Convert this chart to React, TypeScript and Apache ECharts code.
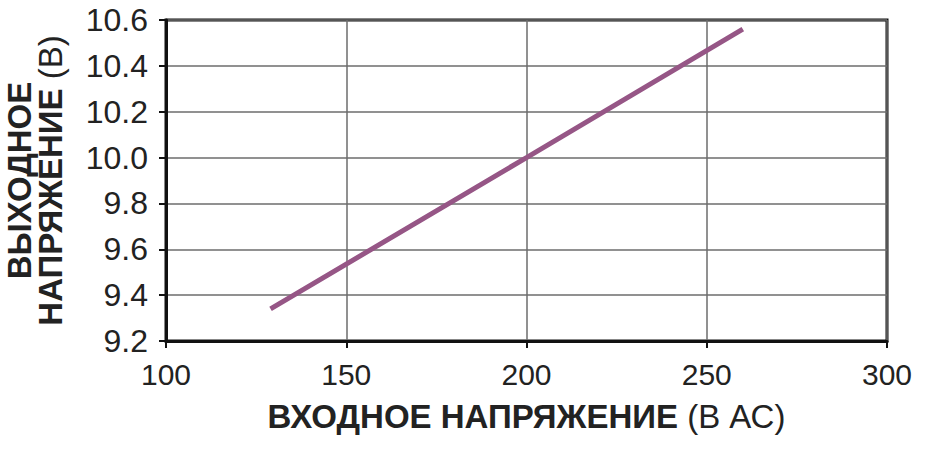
import { useEffect, useRef } from "react";
import * as echarts from "echarts";

const inputVoltage = [129, 200, 260];
const outputVoltage = [9.34, 10.0, 10.56];
const xTitle = "ВХОДНОЕ НАПРЯЖЕНИЕ";
const xUnit = "(В АС)";
const yTitleTop = "ВЫХОДНОЕ";
const yTitleBottom = "НАПРЯЖЕНИЕ";
const yUnit = "(В)";

const FONT = "'Liberation Sans', Arial, sans-serif";

export default function App() {
  const chartRef = useRef(null);

  useEffect(() => {
    const chart = echarts.init(chartRef.current, null, { renderer: "svg" });

    const options = {
      animation: false,
      textStyle: { fontFamily: FONT },
      grid: {
        left: 166,
        right: 39,
        top: 20,
        bottom: 109,
        outerBoundsMode: "none",
        containLabel: false,
        show: true,
        borderColor: "#111",
        borderWidth: 3,
      },
      xAxis: {
        type: "value",
        min: 100,
        max: 300,
        interval: 50,
        axisLine: { show: true, lineStyle: { color: "#111", width: 3 } },
        axisTick: { show: true, length: 7, lineStyle: { color: "#111", width: 2 } },
        axisLabel: { color: "#222", fontSize: 30, margin: 18, fontFamily: FONT },
        splitLine: { show: true, lineStyle: { color: "#6c6c6c", width: 1.5 } },
        name: `{b|${xTitle} }{n|${xUnit}}`,
        nameLocation: "middle",
        nameGap: 59,
        nameTextStyle: {
          rich: {
            b: { fontSize: 33, fontWeight: "bold", color: "#222", fontFamily: FONT },
            n: { fontSize: 33, color: "#222", fontFamily: FONT },
          },
        },
      },
      yAxis: {
        type: "value",
        min: 9.2,
        max: 10.6,
        interval: 0.2,
        axisLine: { show: true, lineStyle: { color: "#111", width: 3 } },
        axisTick: { show: true, length: 7, lineStyle: { color: "#111", width: 2 } },
        axisLabel: {
          color: "#222",
          fontSize: 32,
          margin: 18,
          fontFamily: FONT,
          formatter: (v: number) => v.toFixed(1),
        },
        splitLine: { show: true, lineStyle: { color: "#6c6c6c", width: 1.5 } },
        name: `{b|${yTitleTop}}\n{b|${yTitleBottom} }{n|${yUnit}}`,
        nameLocation: "middle",
        nameRotate: 90,
        nameGap: 100,
        nameTextStyle: {
          lineHeight: 31,
          rich: {
            b: { fontSize: 33, fontWeight: "bold", color: "#222", lineHeight: 31, fontFamily: FONT },
            n: { fontSize: 33, color: "#222", lineHeight: 31, fontFamily: FONT },
          },
        },
      },
      series: [
        {
          type: "line",
          data: inputVoltage.map((x, i) => [x, outputVoltage[i]]),
          showSymbol: false,
          lineStyle: { color: "#965686", width: 5 },
        },
      ],
    };

    chart.setOption(options);

    return () => {
      chart.dispose();
    };
  }, []);

  return (
    <div
      ref={chartRef}
      style={{ position: "fixed", left: 0, top: 0, width: "926px", height: "450px", background: "#fff" }}
    />
  );
}
